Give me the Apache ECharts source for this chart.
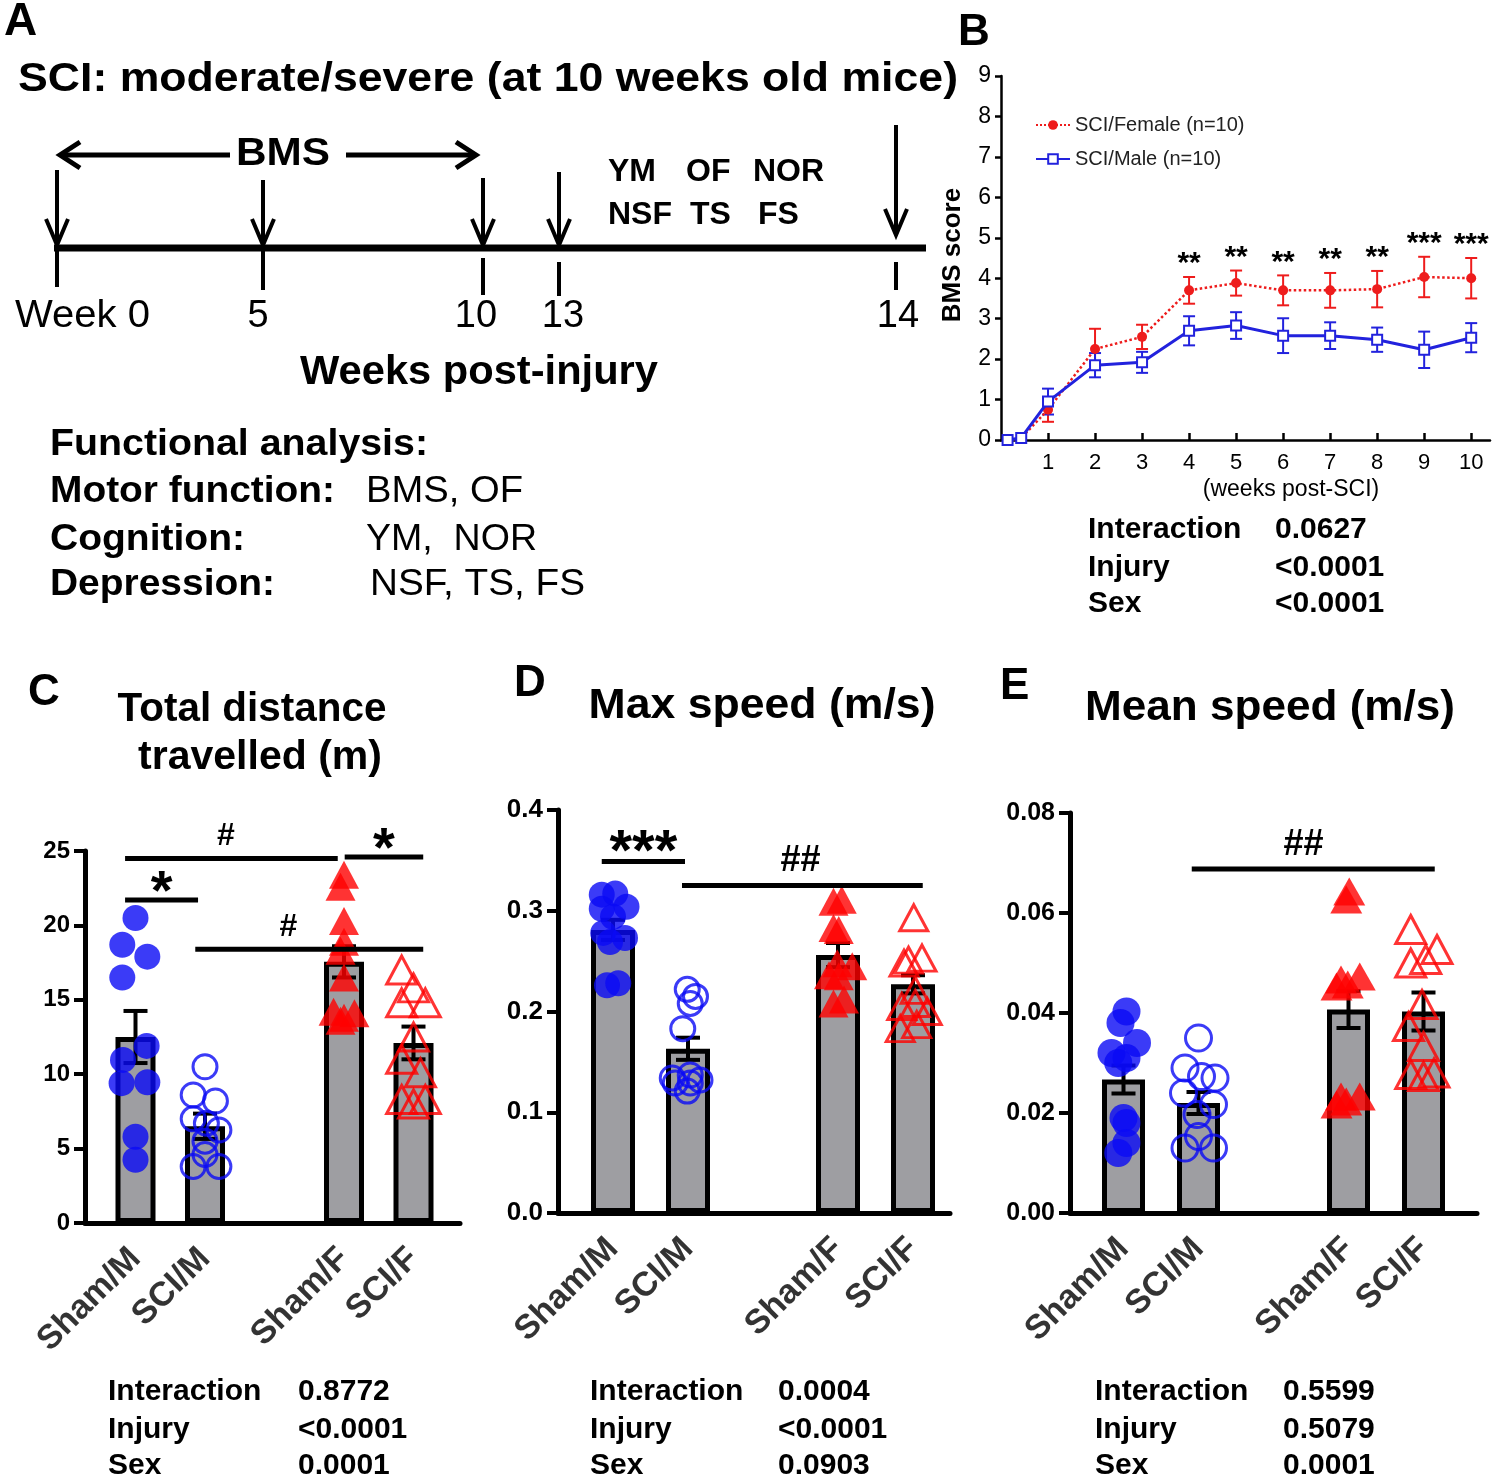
<!DOCTYPE html>
<html><head><meta charset="utf-8">
<script src="https://cdn.jsdelivr.net/npm/echarts@6/dist/echarts.min.js"></script>
<style>html,body{margin:0;padding:0;background:#fff}#c{width:1500px;height:1484px}</style>
</head><body><div id="c"></div><script>
// ---------- Panel B data (BMS score) ----------
const bmsWeeks      = [0.14, 0.43, 1, 2, 3, 4, 5, 6, 7, 8, 9, 10];
const bmsFemaleMean = [0, 0.05, 0.75, 2.25, 2.55, 3.7, 3.88, 3.7, 3.7, 3.73, 4.03, 4.0];
const bmsFemaleSem  = [0, 0, 0.3, 0.5, 0.3, 0.33, 0.31, 0.37, 0.43, 0.45, 0.5, 0.5];
const bmsMaleMean   = [0, 0.05, 0.95, 1.85, 1.92, 2.7, 2.83, 2.58, 2.58, 2.48, 2.23, 2.53];
const bmsMaleSem    = [0, 0, 0.32, 0.3, 0.26, 0.36, 0.33, 0.43, 0.33, 0.3, 0.45, 0.36];
const bmsStars      = ['', '', '', '', '', '**', '**', '**', '**', '**', '***', '***'];
const bmsXTicks     = [1,2,3,4,5,6,7,8,9,10];

// ---------- Groups for C, D, E ----------
const groups  = ['Sham/M', 'SCI/M', 'Sham/F', 'SCI/F'];
const groupX  = [1, 2, 4, 5];

// ---------- Panel C: total distance (m) ----------
const distMean = [12.5, 6.5, 17.55, 12.1];
const distSem  = [1.75, 0.85, 1.05, 1.1];
const distShamM = [[1,20.5],[0.81,18.7],[1.17,17.9],[0.81,16.5],[1.16,11.9],[0.82,10.96],[0.8,9.4],[1.17,9.46],[1,5.8],[1,4.25]];
const distSciM  = [[2,10.5],[1.83,8.6],[2.15,8.2],[1.83,7.0],[2.02,6.7],[2.2,6.25],[2,5.5],[2,4.6],[1.83,3.8],[2.2,3.8]];
const distShamF = [[4,23.4],[3.95,22.6],[4,20.3],[4,18.9],[3.95,18.3],[4,16.5],[3.85,14.2],[4.15,14.1],[4,13.8],[3.95,13.6]];
const distSciF  = [[4.83,17.0],[5,15.8],[5.17,14.8],[4.83,14.8],[5,12.5],[4.83,11.0],[5.1,10.1],[4.83,8.3],[5.17,8.3],[5,8.0]];
const distSig   = [
  {x1:0.85, x2:1.9,  y:21.7, text:'*'},
  {x1:0.85, x2:3.91, y:24.5, text:'#', tx:2.3},
  {x1:4.01, x2:5.14, y:24.6, text:'*'},
  {x1:1.86, x2:5.14, y:18.4, text:'#', tx:3.2}
];
const distStats = [['Interaction','0.8772'],['Injury','<0.0001'],['Sex','0.0001']];

// ---------- Panel D: max speed (m/s) ----------
const maxMean = [0.281, 0.163, 0.256, 0.227];
const maxSem  = [0.01, 0.011, 0.012, 0.009];
const maxShamM = [[0.85,0.316],[1.03,0.317],[1.18,0.304],[0.85,0.302],[1,0.294],[0.87,0.278],[1.16,0.273],[0.96,0.269],[0.92,0.226],[1.07,0.228]];
const maxSciM  = [[1.99,0.222],[2.1,0.215],[2.03,0.208],[1.93,0.183],[2.03,0.137],[1.79,0.134],[2.16,0.132],[1.83,0.129],[2.03,0.129],[1.99,0.121]];
const maxShamF = [[3.94,0.309],[4.05,0.311],[4.01,0.281],[3.94,0.283],[3.99,0.248],[4.19,0.245],[3.88,0.236],[4.01,0.235],[3.94,0.208],[4.08,0.212]];
const maxSciF  = [[5.01,0.293],[4.94,0.251],[5.12,0.253],[4.88,0.248],[5.03,0.221],[4.85,0.205],[5.19,0.2],[5.03,0.208],[4.83,0.183],[5.05,0.187]];
const maxSig   = [
  {x1:0.85, x2:1.96, y:0.349, text:'***'},
  {x1:1.92, x2:5.13, y:0.325, text:'##', tx:3.5}
];
const maxStats = [['Interaction','0.0004'],['Injury','<0.0001'],['Sex','0.0903']];

// ---------- Panel E: mean speed (m/s) ----------
const meanMean = [0.0267, 0.022, 0.0407, 0.0403];
const meanSem  = [0.0028, 0.0022, 0.0037, 0.0038];
const meanShamM = [[1.04,0.0403],[0.96,0.038],[1.18,0.034],[0.84,0.032],[1.04,0.031],[0.93,0.03],[1.0,0.019],[1.04,0.018],[1.04,0.014],[0.93,0.012]];
const meanSciM  = [[2,0.035],[1.82,0.029],[2.04,0.0273],[2.22,0.027],[1.8,0.024],[2.2,0.0217],[1.98,0.0197],[2,0.0153],[1.82,0.013],[2.2,0.013]];
const meanShamF = [[4.01,0.0643],[3.97,0.0627],[3.9,0.0467],[4.15,0.0473],[3.84,0.0453],[3.99,0.0457],[3.9,0.0233],[4.15,0.0233],[3.84,0.0217],[3.97,0.0223]];
const meanSciF  = [[4.83,0.0567],[5.18,0.0527],[4.83,0.05],[5.03,0.0507],[4.98,0.0417],[4.8,0.0373],[5,0.0333],[4.83,0.0277],[5.14,0.028],[5,0.0273]];
const meanSig   = [{x1:1.91, x2:5.15, y:0.0688, text:'##', tx:3.4}];
const meanStats = [['Interaction','0.5599'],['Injury','0.5079'],['Sex','0.0001']];

const bmsStats = [['Interaction','0.0627'],['Injury','<0.0001'],['Sex','<0.0001']];

// ---------- Panel A texts ----------
const aTitle = 'SCI: moderate/severe (at 10 weeks old mice)';
const aWeekLabels = ['Week 0','5','10','13','14'];
const aTests1 = ['YM','OF','NOR'];
const aTests2 = ['NSF','TS','FS'];
const aFuncRows = [['Motor function:','BMS, OF'],['Cognition:','YM,  NOR'],['Depression:','NSF, TS, FS']];

// ================= drawing =================
const FF = '"Liberation Sans", Arial, Helvetica, sans-serif';
const BLUE = '#0a0af5', RED = '#ff0000', GRAY = '#9e9ea2';
const mctx = document.createElement('canvas').getContext('2d');
function fit(text, font, w){ if(!w) return 1; mctx.font = font; const m = mctx.measureText(text).width; return m ? w/m : 1; }
function T(text, x, y, size, bold, align, w, extra){
  const font = (bold ? 'bold ' : '') + size + 'px ' + FF;
  const s = fit(text, font, w);
  return Object.assign({type:'text', x:x, y:y, scaleX:s, style:{text:text, font:font, fill:'#000', align:align||'left', verticalAlign:'middle'}, silent:true}, extra||{});
}
function L(x1,y1,x2,y2,w){ return {type:'line', shape:{x1,y1,x2,y2}, style:{stroke:'#000', lineWidth:w, lineCap:'butt'}, silent:true}; }
function P(pts,w){ return {type:'polyline', shape:{points:pts}, style:{stroke:'#000', lineWidth:w, fill:null, lineJoin:'miter'}, silent:true}; }

const g = [];
// Panel letters
g.push(T('A', 4, 22, 46, true, 'left'));
g.push(T('B', 958, 33, 44, true, 'left'));
g.push(T('C', 28, 693, 44, true, 'left'));
g.push(T('D', 514, 684, 44, true, 'left'));
g.push(T('E', 1000, 687, 44, true, 'left'));
// Panel A
g.push(T(aTitle, 18, 80, 40, true, 'left', 940));
g.push(T('BMS', 283, 155, 38, true, 'center', 94));
g.push(L(230,155,62,155,5)); g.push(P([[80,142],[60,155],[80,168]],5));
g.push(L(346,155,474,155,5)); g.push(P([[456,142],[476,155],[456,168]],5));
const tlX = [57, 263, 483, 559, 896];
const arrTop = [170, 180, 178, 172, 125];
const arrBot = [245, 245, 245, 245, 235];
const tickTop = [250, 250, 258, 262, 262];
const tickBot = [287, 290, 295, 296, 290];
g.push(L(54,248,926,248,7));
tlX.forEach((x,i)=>{
  g.push(L(x,arrTop[i],x,arrBot[i],4));
  g.push(P([[x-11,arrBot[i]-26],[x,arrBot[i]],[x+11,arrBot[i]-26]],4));
  g.push(L(x,tickTop[i],x,tickBot[i],4));
});
g.push(T(aWeekLabels[0], 15, 317, 38, false, 'left', 135));
const wkCx = [0, 258, 476, 563, 898];
for(let i=1;i<5;i++) g.push(T(aWeekLabels[i], wkCx[i], 317, 38, false, 'center'));
const t1x=[608,686,753], t2x=[608,690,758];
aTests1.forEach((t,i)=>g.push(T(t, t1x[i], 172, 32, true, 'left')));
aTests2.forEach((t,i)=>g.push(T(t, t2x[i], 215, 32, true, 'left')));
g.push(T('Weeks post-injury', 479, 373, 40, true, 'center', 358));
g.push(T('Functional analysis:', 50, 445, 36, true, 'left', 378));
const fy=[492,540,585], fw1=[285,195,225], fw2=[157,171,215], fx2=[366,366,370];
aFuncRows.forEach((r,i)=>{ g.push(T(r[0], 50, fy[i], 36, true, 'left', fw1[i])); g.push(T(r[1], fx2[i], fy[i], 36, false, 'left', fw2[i])); });

// Panel B extras
g.push(T('BMS score', 953, 255, 26, true, 'center', null, {rotation: Math.PI/2}));
g.push(T('(weeks post-SCI)', 1291, 490, 23, false, 'center'));
function stats(rows, x1, x2, ys){ rows.forEach((r,i)=>{ g.push(T(r[0], x1, ys[i], 30, true, 'left')); g.push(T(r[1], x2, ys[i], 30, true, 'left')); }); }
stats(bmsStats, 1088, 1275, [530,568,604]);
stats(distStats, 108, 298, [1392,1430,1466]);
stats(maxStats, 590, 778, [1392,1430,1466]);
stats(meanStats, 1095, 1283, [1392,1430,1466]);
// titles
g.push(T('Total distance', 252, 710, 40, true, 'center', 269));
g.push(T('travelled (m)', 260, 758, 40, true, 'center', 244));
g.push(T('Max speed (m/s)', 762, 706, 42, true, 'center', 347));
g.push(T('Mean speed (m/s)', 1270, 708, 42, true, 'center', 370));

// ---------- series helpers ----------
function errSeries(gi, xs, means, sems, cap, lw, color, z){
  return {type:'custom', xAxisIndex:gi, yAxisIndex:gi, z:z||3, silent:true, clip:false,
    data: xs.map((x,i)=>[x, means[i], sems[i]]), encode:{x:0, y:1},
    renderItem(params, api){
      const x=api.value(0), m=api.value(1), s=api.value(2);
      if(!s) return {type:'group', children:[]};
      const t=api.coord([x,m+s]), b=api.coord([x,m-s]);
      const st={stroke:color, lineWidth:lw};
      return {type:'group', children:[
        {type:'line', shape:{x1:t[0],y1:t[1],x2:b[0],y2:b[1]}, style:st},
        {type:'line', shape:{x1:t[0]-cap/2,y1:t[1],x2:t[0]+cap/2,y2:t[1]}, style:st},
        {type:'line', shape:{x1:b[0]-cap/2,y1:b[1],x2:b[0]+cap/2,y2:b[1]}, style:st}]};
    }};
}
function sigSeries(gi, sigs, lw){
  return {type:'custom', xAxisIndex:gi, yAxisIndex:gi, z:6, silent:true, clip:false,
    data: sigs.map(s=>[s.x1, s.y, s.x2]), encode:{x:0, y:1},
    renderItem(params, api){
      const s = sigs[params.dataIndex];
      const p1=api.coord([s.x1,s.y]), p2=api.coord([s.x2,s.y]);
      const c=api.coord([s.tx!=null ? s.tx : (s.x1+s.x2)/2, s.y]);
      const star = s.text.indexOf('*')>=0;
      const size = star ? (s.text.length>1 ? 58 : 56) : (s.text.length>1 ? 36 : 32);
      const dy = star ? -4 : -6;
      return {type:'group', children:[
        {type:'line', shape:{x1:p1[0],y1:p1[1],x2:p2[0],y2:p2[1]}, style:{stroke:'#000', lineWidth:lw}},
        {type:'text', x:c[0], y:p1[1]+dy + (star ? size*0.45 : 0), style:{text:s.text, font:'bold '+size+'px '+FF, fill:'#000', align:'center', verticalAlign:'bottom'}}]};
    }};
}
function pts(gi, data, filled, symbol, color, size){
  return {type:'scatter', xAxisIndex:gi, yAxisIndex:gi, z:4, silent:true, data:data,
    symbol:symbol, symbolSize:size,
    itemStyle: filled ? {color:color} : {color:'rgba(0,0,0,0)', borderColor:color, borderWidth:3}};
}
function labelSeries(gi){
  return {type:'scatter', xAxisIndex:gi, yAxisIndex:gi, z:1, silent:true, symbolSize:1,
    itemStyle:{color:'rgba(0,0,0,0)'},
    data: groupX.map((x,i)=>({value:[x,0], name:groups[i]})),
    label:{show:true, formatter:'{b}', position:'bottom', distance:30, rotate:45, align:'right', verticalAlign:'middle',
      fontSize:34, fontWeight:'bold', color:'#000', fontFamily:FF}};
}
function barSeries(gi, means, w){
  return {type:'bar', xAxisIndex:gi, yAxisIndex:gi, z:2, silent:true, barWidth:w,
    data: groupX.map((x,i)=>[x, means[i]]),
    itemStyle:{color:GRAY, borderColor:'#000', borderWidth:5}};
}

// ---------- axes ----------
function yAx(gi, max, interval, dec, size){
  return {type:'value', gridIndex:gi, min:0, max:max, interval:interval,
    axisLine:{show:true, lineStyle:{color:'#000', width:5}},
    axisTick:{show:true, length:11, lineStyle:{color:'#000', width:4}},
    splitLine:{show:false},
    axisLabel:{color:'#000', fontSize:size, fontWeight:'bold', fontFamily:FF, margin:15,
      formatter:v=>v.toFixed(dec)}};
}
function xAx(gi, min, max){
  return {type:'value', gridIndex:gi, min:min, max:max,
    axisLine:{show:true, onZero:false, lineStyle:{color:'#000', width:5}},
    axisTick:{show:false}, axisLabel:{show:false}, splitLine:{show:false}};
}

const option = {
  animation:false,
  textStyle:{fontFamily:FF},
  graphic:{elements:g},
  legend:{data:['SCI/Female (n=10)','SCI/Male (n=10)'], orient:'vertical', left:1030, top:110, itemWidth:34, itemHeight:12, itemGap:14,
    textStyle:{fontSize:20, color:'#222', fontFamily:FF}},
  grid:[
    {left:1001, top:76, width:489, height:364},
    {left:85, top:851, width:375, height:372},
    {left:558, top:810, width:392, height:403},
    {left:1070, top:813, width:407, height:400}
  ],
  xAxis:[
    {type:'value', gridIndex:0, min:0, max:10.4,
      axisLine:{show:true, onZero:false, lineStyle:{color:'#000', width:2.5}},
      axisTick:{show:true, inside:true, length:7, customValues:bmsXTicks, lineStyle:{color:'#000', width:2.5}},
      axisLabel:{color:'#000', fontSize:22, fontFamily:FF, margin:12, customValues:bmsXTicks},
      splitLine:{show:false}},
    xAx(1, (85-66)/69.5, (460-66)/69.5),
    xAx(2, (558-538)/75, (950-538)/75),
    xAx(3, (1070-1048.5)/75, (1477-1048.5)/75)
  ],
  yAxis:[
    {type:'value', gridIndex:0, min:0, max:9, interval:1,
      axisLine:{show:true, lineStyle:{color:'#000', width:2.5}},
      axisTick:{show:true, length:6, lineStyle:{color:'#000', width:2.5}},
      axisLabel:{color:'#000', fontSize:23, fontFamily:FF, margin:10},
      splitLine:{show:false}},
    yAx(1, 25, 5, 0, 24),
    yAx(2, 0.4, 0.1, 1, 26),
    yAx(3, 0.08, 0.02, 2, 25)
  ],
  series:[
    // Panel B
    {name:'SCI/Female (n=10)', type:'line', xAxisIndex:0, yAxisIndex:0, z:3, data:bmsWeeks.map((x,i)=>[x,bmsFemaleMean[i]]),
      symbol:'circle', symbolSize:10, itemStyle:{color:'#ee1c1c'}, lineStyle:{color:'#ee1c1c', width:2.5, type:'dotted'}},
    {name:'SCI/Male (n=10)', type:'line', xAxisIndex:0, yAxisIndex:0, z:4, data:bmsWeeks.map((x,i)=>[x,bmsMaleMean[i]]),
      symbol:'rect', symbolSize:10, itemStyle:{color:'#fff', borderColor:'#2222dd', borderWidth:2}, lineStyle:{color:'#2222dd', width:3}},
    errSeries(0, bmsWeeks, bmsFemaleMean, bmsFemaleSem, 12, 2, '#ee1c1c', 2),
    errSeries(0, bmsWeeks, bmsMaleMean, bmsMaleSem, 12, 2, '#2222dd', 2),
    {type:'custom', xAxisIndex:0, yAxisIndex:0, z:6, silent:true, clip:false,
      data: bmsWeeks.map((x,i)=>[x, bmsFemaleMean[i]+bmsFemaleSem[i]]), encode:{x:0,y:1},
      renderItem(params, api){
        const txt = bmsStars[params.dataIndex];
        if(!txt) return {type:'group', children:[]};
        const p = api.coord([api.value(0), api.value(1)]);
        return {type:'text', x:p[0], y:p[1]+2, style:{text:txt, font:'bold 30px '+FF, fill:'#000', align:'center', verticalAlign:'bottom'}};
      }},
    // Panel C
    barSeries(1, distMean, 40),
    errSeries(1, groupX, distMean, distSem, 24, 4, '#000', 3),
    pts(1, distShamM, true, 'circle', BLUE, 26),
    pts(1, distSciM, false, 'circle', BLUE, 24),
    pts(1, distShamF, true, 'triangle', RED, [30,28]),
    pts(1, distSciF, false, 'triangle', RED, [30,28]),
    sigSeries(1, distSig, 5),
    labelSeries(1),
    // Panel D
    barSeries(2, maxMean, 44),
    errSeries(2, groupX, maxMean, maxSem, 24, 4, '#000', 3),
    pts(2, maxShamM, true, 'circle', BLUE, 26),
    pts(2, maxSciM, false, 'circle', BLUE, 24),
    pts(2, maxShamF, true, 'triangle', RED, [30,28]),
    pts(2, maxSciF, false, 'triangle', RED, [28,26]),
    sigSeries(2, maxSig, 5),
    labelSeries(2),
    // Panel E
    barSeries(3, meanMean, 43),
    errSeries(3, groupX, meanMean, meanSem, 24, 4, '#000', 3),
    pts(3, meanShamM, true, 'circle', BLUE, 28),
    pts(3, meanSciM, false, 'circle', BLUE, 26),
    pts(3, meanShamF, true, 'triangle', RED, [32,28]),
    pts(3, meanSciF, false, 'triangle', RED, [30,28]),
    sigSeries(3, meanSig, 5),
    labelSeries(3)
  ]
};
const chart = echarts.init(document.getElementById('c'), null, {renderer:'canvas', width:1500, height:1484});
chart.setOption(option);
</script></body></html>
